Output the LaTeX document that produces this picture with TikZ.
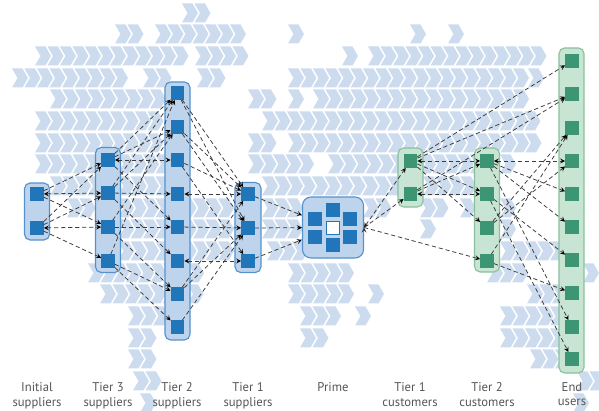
\documentclass[tikz,border=0pt]{standalone}
\usepackage{fontspec}
\setmainfont{PT Sans}
\usetikzlibrary{positioning}
\definecolor{chevblue}{RGB}{204,220,238}
\definecolor{supfill}{RGB}{190,212,236}
\definecolor{supline}{RGB}{84,146,205}
\definecolor{supdot}{RGB}{33,118,186}
\definecolor{cusfill}{RGB}{200,228,210}
\definecolor{cusline}{RGB}{138,192,158}
\definecolor{cusdot}{RGB}{60,150,115}
\definecolor{linkgray}{RGB}{60,60,60}
\definecolor{lblgray}{RGB}{85,85,85}
\tikzstyle{chev}=[fill=chevblue]
\tikzstyle{supbox}=[draw=supline,fill=supfill,line width=0.8pt,rounded corners=4pt,minimum width=0.625cm,inner sep=0pt]
\tikzstyle{cusbox}=[draw=cusline,fill=cusfill,line width=0.8pt,rounded corners=4pt,minimum width=0.625cm,inner sep=0pt]
\tikzstyle{sup}=[fill=supdot,minimum size=0.33cm,inner sep=0pt]
\tikzstyle{cus}=[fill=cusdot,minimum size=0.33cm,inner sep=0pt]
\tikzstyle{link}=[draw=linkgray,dash pattern=on 3pt off 2pt,line width=0.55pt,->,>=stealth]
\tikzstyle{lbl}=[anchor=north,align=center,text=lblgray,font=\fontsize{9}{10.5}\selectfont,inner sep=0pt]
% one chevron: left edge x, centre y
\def\chevron#1#2{\fill[chev] (#1,#2-9.5) -- ++(10.5,0) -- ++(5.5,9.5) -- ++(-5.5,9.5) -- ++(-10.5,0) -- ++(5.5,-9.5) -- cycle;}

\begin{document}
\begin{tikzpicture}[x=0.025cm,y=-0.025cm]
    \useasboundingbox (0,0) rectangle (599,411);
    \clip (0,0) rectangle (599,411);

    % background arrows, row centre / first left edge / count
    \foreach \y/\x/\n in {13/182/2,
        34/115/2, 34/155/7, 34/288/1, 34/410/1, 34/448/1,
        56/35/12, 56/195/4, 56/342/1, 56/368/14,
        78/12/9, 78/143/2, 78/197/2, 78/288/19, 78/528/1,
        99/50/9, 99/248/2, 99/288/1, 99/313/17,
        121/35/10, 121/262/22,
        143/35/10, 143/248/2, 143/288/20,
        164/35/5, 164/118/4, 164/248/5, 164/328/6, 164/420/5, 164/500/1,
        186/50/4, 186/118/4, 186/262/11, 186/423/4,
        208/67/2, 208/118/9, 208/262/3, 208/363/2, 208/420/2, 208/460/1, 208/500/1,
        229/118/9, 229/262/3, 229/420/1, 229/500/1,
        251/118/9, 251/267/3, 251/500/5,
        273/88/9, 273/288/5, 273/487/3, 273/583/1,
        294/100/8, 294/288/5, 294/368/1, 294/527/3,
        316/128/3, 316/300/3, 316/355/1, 316/500/5,
        338/128/2, 338/300/2, 338/500/5,
        359/128/2, 359/530/3,
        381/133/2, 381/577/2,
        403/140/1, 403/573/1}
      {\foreach \i in {1,...,\n} {\chevron{\x+12.5*\i-12.5}{\y}}}

    % groups
    \node [supbox,minimum height=1.425cm] (isbox) at (37,211.5) {};
    \node [supbox,minimum height=3.125cm] (s3box) at (108,210) {};
    \node [supbox,minimum height=6.45cm]  (s2box) at (177.5,211) {};
    \node [supbox,minimum height=2.25cm,minimum width=0.65cm] (s1box) at (248,227.5) {};
    \node [supbox,minimum size=1.525cm,rounded corners=6pt] (prime) at (333,227.5) {};
    \node [cusbox,minimum height=1.475cm] (c1box) at (410.5,177.5) {};
    \node [cusbox,minimum height=3.1cm]   (c2box) at (487,210) {};
    \node [cusbox,minimum height=8.125cm] (eubox) at (571.5,210.5) {};

    % members
    \node [sup] (is1) at (37,194) {};
    \node [sup] (is2) at (37,228) {};
    \foreach \n/\y in {a/160,b/193,c/227,d/261}
        \node [sup] (s3\n) at (108,\y) {};
    \foreach \n/\y in {a/93,b/127,c/160,d/194,e/227,f/261,g/294,h/327}
        \node [sup] (s2\n) at (177.5,\y) {};
    \foreach \n/\y in {a/194,b/228,c/261}
        \node [sup] (s1\n) at (248,\y) {};
    \node [sup,minimum size=0.35cm] (pt)  at (333,210) {};
    \node [sup,minimum size=0.35cm] (pb)  at (333,245) {};
    \node [sup,minimum size=0.35cm] (pl1) at (315,219) {};
    \node [sup,minimum size=0.35cm] (pl2) at (315,237) {};
    \node [sup,minimum size=0.35cm] (pr1) at (350,219) {};
    \node [sup,minimum size=0.35cm] (pr2) at (350,237) {};
    \node [draw=supdot,fill=white,line width=1.2pt,minimum size=0.33cm,inner sep=0pt] (pc) at (333,228) {};
    \node [cus] (c1a) at (410.5,161) {};
    \node [cus] (c1b) at (410.5,194) {};
    \foreach \n/\y in {a/161,b/194,c/228,d/261}
        \node [cus] (c2\n) at (487,\y) {};
    \foreach \n/\y in {1/61,2/94,3/128,4/161,5/194,6/227,7/260,8/293,9/327,10/359}
        \node [cus] (eu\n) at (572,\y) {};

    % flows
    \path [link] (is1) edge (s3a) edge [<->] (s3b) edge (s3c)
                 (is2) edge (s3a) edge (s3b) edge [<->] (s3c) edge (s3d);
    \path [link] (s3a) edge (s2a) edge (s2b) edge [<->] (s2c) edge (s2e)
                 (s3b) edge (s2a) edge (s2b) edge (s2d) edge (s2f)
                 (s3c) edge (s2b) edge (s2e) edge (s2g)
                 (s3d) edge (s2a) edge (s2g) edge (s2h);
    \path [link] (s2a) edge (s1a) edge (s1b)
                 (s2b) edge (s1a) edge (s1b)
                 (s2c) edge (s1a) edge (s1c)
                 (s2d) edge [<->] (s1a)
                 (s2e) edge (s1b)
                 (s2f) edge [<->] (s1c)
                 (s2g) edge (s1a) edge (s1b)
                 (s2h) edge (s1b);
    \path [link] (s1a) edge (prime) (s1b) edge (prime) (s1c) edge (prime);
    \path [link] (prime.east) edge [<->] (c1a) edge (c1b) edge (c2d);
    \path [link] (c1a) edge [<->] (c2a) edge (c2b) edge (c2c) edge (eu1) edge (eu2)
                 (c1b) edge [<->] (c2b) edge (c2a) edge (eu2)
                 (c2a) edge [<->] (eu4) edge (eu5) edge (eu6) edge (eu9)
                 (c2b) edge (eu7) edge (eu10)
                 (c2c) edge (eu3) edge (eu4)
                 (c2d) edge (eu3) edge (eu8);

    % captions
    \node [lbl] (lis) at (37,382)  {Initial\\suppliers};
    \node [lbl] (ls3) at (108,382) {Tier 3\\suppliers};
    \node [lbl] (ls2) at (177,382) {Tier 2\\suppliers};
    \node [lbl] (ls1) at (248,382) {Tier 1\\suppliers};
    \node [lbl] (lpr) at (333,382) {Prime};
    \node [lbl] (lc1) at (410,382) {Tier 1\\customers};
    \node [lbl] (lc2) at (487,382) {Tier 2\\customers};
    \node [lbl] (leu) at (572,382) {End\\users};
\end{tikzpicture}
\end{document}
